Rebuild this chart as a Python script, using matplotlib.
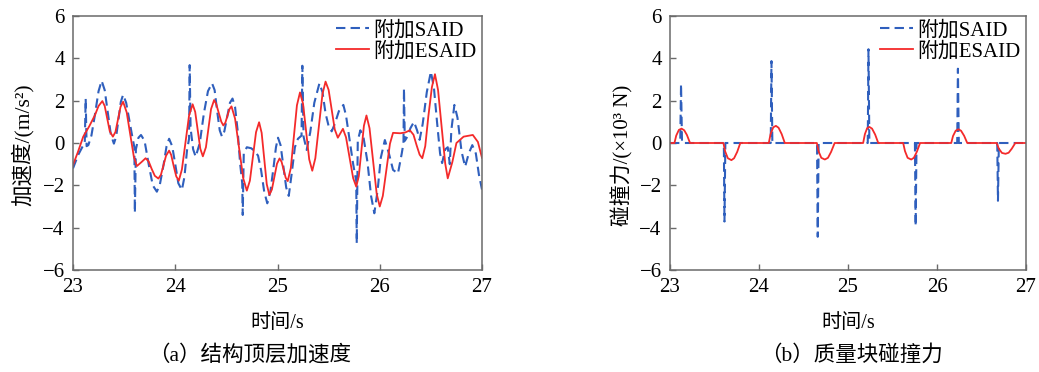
import matplotlib
matplotlib.use("Agg")
import matplotlib.pyplot as plt

plt.rcParams['font.family'] = ['Liberation Serif', 'Noto Sans CJK SC', 'DejaVu Sans']
plt.rcParams['axes.unicode_minus'] = True

# ---------------- data ----------------
legend_labels = ['附加SAID', '附加ESAID']
x_ticks = [23, 24, 25, 26, 27]
y_ticks = [-6, -4, -2, 0, 2, 4, 6]

# (a) top-floor acceleration, SAID (time s, m/s^2)
acc_said = [(23.00,-1.2),(23.05,-0.57),(23.09,-0.2),(23.115,0.0),(23.124,2.1),(23.133,-0.15),(23.15,-0.1),
    (23.18,0.35),(23.21,1.2),(23.25,2.45),(23.28,2.94),(23.31,2.5),(23.34,1.45),(23.37,0.4),(23.40,-0.03),
    (23.4225,0.31),(23.445,1.13),(23.4675,1.94),(23.49,2.28),(23.52,1.9),(23.55,1.1),(23.58,0.3),(23.60,-0.2),
    (23.605,-3.3),(23.615,-0.3),(23.64,0.25),(23.665,0.38),(23.70,0.1),(23.74,-1.0),(23.78,-2.0),(23.82,-2.3),
    (23.85,-1.95),(23.885,-1.05),(23.915,-0.15),(23.94,0.2),(23.97,-0.15),(24.00,-1.0),(24.03,-1.9),(24.065,-2.22),
    (24.09,-1.6),(24.115,-0.35),(24.135,0.2),(24.141,3.68),(24.15,0.7),(24.175,-0.3),(24.20,-0.65),(24.24,0.0),
    (24.28,1.4),(24.32,2.45),(24.36,2.82),(24.385,2.5),(24.41,1.5),(24.435,0.6),(24.457,0.3),(24.48,0.55),
    (24.51,1.3),(24.535,1.9),(24.56,2.1),(24.585,1.7),(24.61,0.6),(24.635,-1.0),(24.655,-1.9),(24.66,-3.4),
    (24.67,-0.5),(24.70,-0.2),(24.744,-0.25),(24.78,-0.4),(24.81,-0.6),(24.84,-1.3),(24.87,-2.3),(24.90,-2.85),
    (24.93,-2.3),(24.96,-1.2),(24.985,-0.2),(25.005,0.25),(25.03,-0.1),(25.06,-1.2),(25.085,-2.1),(25.11,-2.5),
    (25.14,-1.4),(25.17,-0.2),(25.20,0.2),(25.235,0.35),(25.243,3.65),(25.255,0.3),(25.285,-0.33),(25.32,0.5),
    (25.36,1.9),(25.41,2.82),(25.44,2.4),(25.47,1.4),(25.50,0.8),(25.53,0.55),(25.56,0.9),(25.60,1.5),
    (25.644,1.8),(25.67,1.3),(25.70,0.3),(25.74,-1.0),(25.77,-1.8),(25.775,-4.74),(25.785,0.1),(25.81,0.6),
    (25.84,0.3),(25.88,-0.9),(25.915,-2.5),(25.947,-3.32),(25.98,-2.2),(26.01,-0.7),(26.05,0.14),(26.09,-0.5),
    (26.13,-1.27),(26.178,-1.44),(26.215,-0.5),(26.232,0.0),(26.237,2.58),(26.245,0.1),(26.27,0.3),(26.30,0.7),
    (26.335,1.0),(26.365,0.6),(26.39,0.15),(26.42,0.9),(26.46,2.4),(26.50,3.37),(26.53,2.6),(26.56,1.0),
    (26.59,-0.5),(26.61,-0.95),(26.64,-0.3),(26.665,-0.2),(26.685,-1.0),(26.70,0.6),(26.73,1.8),(26.76,1.2),
    (26.80,-0.4),(26.835,-1.12),(26.87,-0.5),(26.905,-0.1),(26.94,-0.5),(26.97,-1.5),(27.00,-2.2)]

# (a) top-floor acceleration, ESAID
acc_esaid = [(23.00,-1.04),(23.05,-0.4),(23.10,0.3),(23.16,0.8),(23.215,1.32),(23.25,1.75),(23.287,1.98),
    (23.31,1.75),(23.335,1.14),(23.36,0.55),(23.39,0.3),(23.415,0.52),(23.44,1.12),(23.465,1.71),(23.49,1.95),
    (23.525,1.45),(23.56,0.4),(23.595,-0.65),(23.625,-1.09),(23.67,-0.9),(23.71,-0.72),(23.74,-0.87),(23.77,-1.23),
    (23.80,-1.55),(23.835,-1.68),(23.86,-1.5),(23.885,-1.05),(23.91,-0.6),(23.94,-0.36),(23.96,-0.56),(23.985,-1.09),
    (24.01,-1.58),(24.035,-1.78),(24.065,-1.25),(24.10,0.03),(24.135,1.30),(24.17,1.83),(24.195,1.47),(24.22,0.6),
    (24.245,-0.27),(24.27,-0.63),(24.30,-0.2),(24.325,0.7),(24.35,1.6),(24.38,2.03),(24.40,1.85),(24.425,1.43),
    (24.45,1.01),(24.47,0.83),(24.49,0.96),(24.51,1.28),(24.53,1.6),(24.55,1.73),(24.585,1.15),(24.625,-0.26),
    (24.665,-1.67),(24.70,-2.25),(24.73,-1.78),(24.76,-0.64),(24.79,0.51),(24.82,0.98),(24.845,0.48),(24.87,-0.74),
    (24.895,-1.95),(24.92,-2.45),(24.945,-2.2),(24.97,-1.59),(24.995,-0.98),(25.02,-0.73),(25.04,-0.89),(25.06,-1.27),
    (25.08,-1.64),(25.10,-1.8),(25.13,-1.19),(25.16,0.3),(25.19,1.78),(25.22,2.39),(25.25,1.85),(25.28,0.54),
    (25.31,-0.77),(25.34,-1.31),(25.37,-0.72),(25.405,0.8),(25.44,2.32),(25.47,2.9),(25.50,2.51),(25.53,1.58),
    (25.56,0.64),(25.59,0.25),(25.615,0.46),(25.64,0.67),(25.67,0.27),(25.705,-0.7),(25.74,-1.66),(25.77,-2.06),
    (25.795,-1.57),(25.82,-0.38),(25.845,0.81),(25.87,1.3),(25.90,0.7),(25.935,-0.85),(25.97,-2.4),(26.00,-3.0),
    (26.03,-2.5),(26.065,-1.26),(26.10,-0.03),(26.13,0.48),(26.20,0.46),(26.25,0.5),(26.295,0.6),(26.33,0.39),
    (26.36,-0.1),(26.39,-0.55),(26.416,-0.72),(26.445,-0.15),(26.475,1.25),(26.51,2.64),(26.54,3.25),(26.57,2.51),
    (26.605,0.78),(26.64,-0.96),(26.665,-1.67),(26.71,-0.9),(26.75,0.0),(26.82,0.3),(26.91,0.38),(26.96,0.05),
    (27.00,-0.7)]

# (b) pounding force of mass block, SAID (x10^3 N)
force_said = [(23.0,0),(23.115,0),(23.124,2.79),(23.135,0),(23.605,0),(23.612,-3.71),(23.622,0),
    (24.132,0),(24.14,3.87),(24.15,0),(24.652,0),(24.66,-4.43),(24.67,0),(25.222,0),(25.23,4.43),(25.24,0),
    (25.752,0),(25.76,-3.92),(25.77,0),(26.227,0),(26.235,3.51),(26.245,0),(26.677,0),(26.685,-2.73),(26.695,0),
    (27.0,0)]

# (b) pounding force of mass block, ESAID
force_esaid = [(23.0,0),
    (23.05,0),(23.07,0.35),(23.10,0.62),(23.13,0.68),(23.16,0.6),(23.19,0.38),(23.225,0),
    (23.60,0),(23.62,-0.4),(23.65,-0.72),(23.69,-0.81),(23.72,-0.72),(23.755,-0.42),(23.79,0),
    (24.11,0),(24.13,0.42),(24.16,0.74),(24.19,0.81),(24.22,0.72),(24.255,0.42),(24.29,0),
    (24.65,0),(24.67,-0.4),(24.70,-0.7),(24.74,-0.78),(24.775,-0.7),(24.81,-0.42),(24.85,0),
    (25.17,0),(25.19,0.42),(25.215,0.7),(25.24,0.76),(25.27,0.68),(25.305,0.4),(25.34,0),
    (25.62,0),(25.64,-0.38),(25.67,-0.7),(25.71,-0.78),(25.74,-0.7),(25.775,-0.4),(25.81,0),
    (26.16,0),(26.18,0.33),(26.21,0.58),(26.24,0.65),(26.27,0.58),(26.305,0.34),(26.34,0),
    (26.67,0),(26.695,-0.27),(26.73,-0.47),(26.77,-0.51),(26.805,-0.46),(26.84,-0.27),(26.88,0),
    (27.0,0)]

# ---------------- figure ----------------
W, H = 1039, 372
fig = plt.figure(figsize=(W / 100, H / 100), dpi=100)

BLUE = '#2f5fbd'
RED = '#f42a2a'
SPINE = '#6a6a6a'
TICKFS = 15

def px_rect(l, r, t, b):
    return [l / W, 1 - b / H, (r - l) / W, (b - t) / H]

ax1 = fig.add_axes(px_rect(73, 482, 16, 270))
ax2 = fig.add_axes(px_rect(670, 1026, 16, 270))

def unzip(pairs):
    return [p[0] for p in pairs], [p[1] for p in pairs]

for ax, said, esaid in ((ax1, acc_said, acc_esaid), (ax2, force_said, force_esaid)):
    t, v = unzip(said)
    ax.plot(t, v, color=BLUE, lw=1.5, linestyle=(0, (4.5, 2.5)), label=legend_labels[0])
    t, v = unzip(esaid)
    ax.plot(t, v, color=RED, lw=1.3, label=legend_labels[1])
    ax.set_xlim(23, 27)
    ax.set_ylim(-6, 6)
    ax.set_xticks(x_ticks)
    ax.set_yticks(y_ticks)
    ax.tick_params(direction='in', length=4, width=1.0, color=SPINE, labelsize=TICKFS,
                   top=False, right=False)
    ax.tick_params(axis='y', pad=6)
    ax.tick_params(axis='x', pad=6)
    for s in ax.spines.values():
        s.set_color(SPINE)
        s.set_linewidth(1.1)
    leg = ax.legend(loc='upper right', frameon=False, fontsize=15, handlelength=1.6,
                    handletextpad=0.2, labelspacing=0.05, borderpad=0.15, borderaxespad=0.1)

fig.text(22 / W, 1 - 145 / H, '加速度/(m/s²)', rotation=90, ha='center', va='center', fontsize=15.5)
fig.text(622 / W, 1 - 155 / H, '碰撞力/(×10³ N)', rotation=90, ha='center', va='center', fontsize=15)
fig.text(277 / W, 1 - 323 / H, '时间/s', ha='center', va='center', fontsize=14.5)
fig.text(848 / W, 1 - 323 / H, '时间/s', ha='center', va='center', fontsize=14.5)
fig.text(250 / W, 1 - 355 / H, '（a）结构顶层加速度', ha='center', va='center', fontsize=15.5)
fig.text(851 / W, 1 - 355 / H, '（b）质量块碰撞力', ha='center', va='center', fontsize=15.5)

fig.savefig('out.png', dpi=100)
